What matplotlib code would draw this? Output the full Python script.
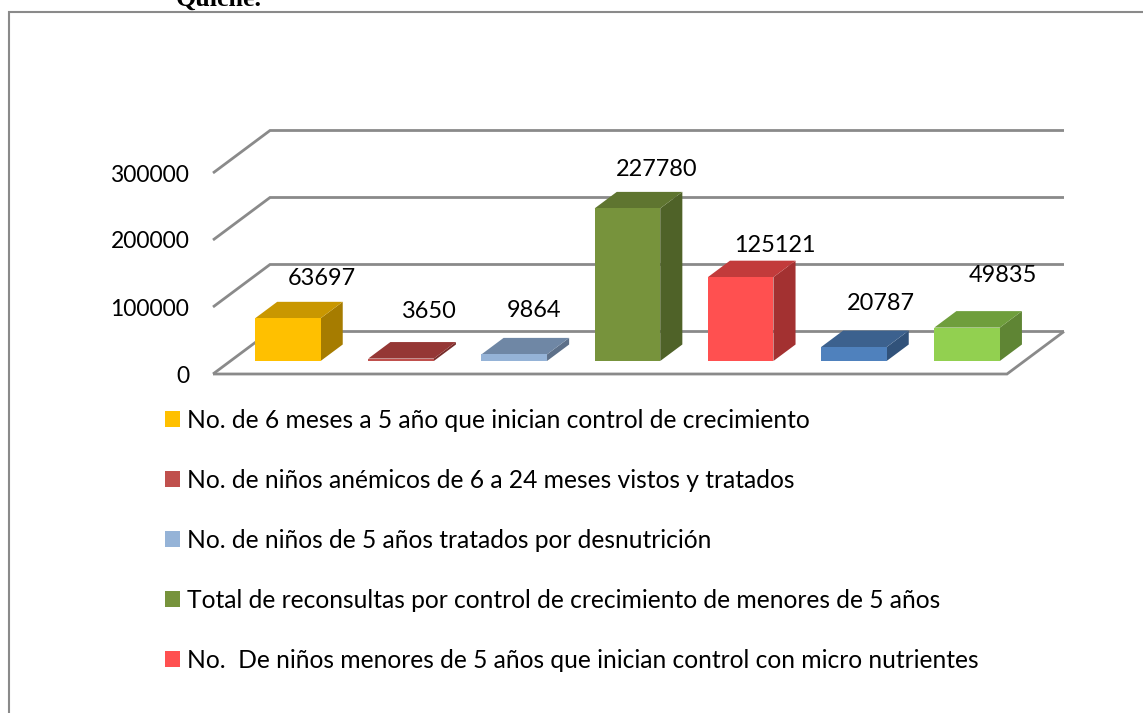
import matplotlib
matplotlib.use("Agg")
import matplotlib.pyplot as plt
from matplotlib.lines import Line2D
from matplotlib.patches import Patch

# Values
values = [63697, 3650, 9864, 227780, 125121, 20787, 49835]
y_ticks = [0, 100000, 200000, 300000]
legend_labels = [
    "No. de 6 meses a 5 año que inician control de crecimiento",
    "No. de niños anémicos de 6 a 24 meses vistos y tratados",
    "No. de niños de 5 años tratados por desnutrición",
    "Total de reconsultas por control de crecimiento de menores de 5 años",
    "No.  De niños menores de 5 años que inician control con micro nutrientes",
]
front_colors = ["#ffc000", "#c0504d", "#95b3d7", "#77933c", "#ff5050", "#4f81bd", "#92d050"]
top_colors = ["#c99700", "#953735", "#6f87a5", "#5f7530", "#c23b3b", "#3c618e", "#6f9e3c"]
side_colors = ["#a67c00", "#772c2a", "#5d7089", "#4f6228", "#a33131", "#31527a", "#5f8534"]

W, H = 1143, 713
GRID = "#8a8a8a"
FONT = "Lato"

# depth of the floor, in category units and in value units
FLOOR_DX = 57 / 113.43
FLOOR_DY = 42.5 / 67 * 100000
BAR_D0 = 0.306   # where a bar starts on the floor
BAR_D1 = 0.694   # where it ends
BAR_X0 = 0.217
BAR_W = 0.578
BAR_PITCH = 0.998

# label nudges in px, placed by hand in the original chart
label_dx = [-21, -27, -35, -26, -21, -28, -19]
label_dy = [23, 31, 27, 22, 15, 27, 36]


def proj(x, v, d):
    return x + d * FLOOR_DX, v + d * FLOOR_DY


fig = plt.figure(figsize=(W / 100, H / 100), dpi=100)
ax = fig.add_axes([213 / W, 1 - 374 / H, (1007 - 213) / W, (374 - 173) / H])
ax.set_xlim(0, 7)
ax.set_ylim(0, 300000)
for s in ax.spines.values():
    s.set_visible(False)
ax.set_xticks([])
ax.set_yticks(y_ticks)
ax.set_yticklabels([str(t) for t in y_ticks], fontsize=16.5, family=FONT)
ax.tick_params(axis="y", length=0, pad=17)
ax.patch.set_alpha(0)

# walls and floor
for t in y_ticks:
    xs, ys = zip(proj(0, t, 0), proj(0, t, 1), proj(7, t, 1))
    ax.plot(xs, ys, color=GRID, lw=2, clip_on=False, zorder=1,
            solid_joinstyle="miter", solid_capstyle="butt")
xs, ys = zip(proj(7, 0, 1), proj(7, 0, 0), proj(0, 0, 0))
ax.plot(xs, ys, color=GRID, lw=2, clip_on=False, zorder=1,
        solid_joinstyle="miter", solid_capstyle="butt")

# bars
for i, v in enumerate(values):
    x0 = i * BAR_PITCH + BAR_X0
    x1 = x0 + BAR_W
    top = [proj(x0, v, BAR_D0), proj(x1, v, BAR_D0), proj(x1, v, BAR_D1), proj(x0, v, BAR_D1)]
    side = [proj(x1, 0, BAR_D0), proj(x1, 0, BAR_D1), proj(x1, v, BAR_D1), proj(x1, v, BAR_D0)]
    front = [proj(x0, 0, BAR_D0), proj(x1, 0, BAR_D0), proj(x1, v, BAR_D0), proj(x0, v, BAR_D0)]
    for poly, col in zip([side, top, front], [side_colors[i], top_colors[i], front_colors[i]]):
        ax.fill(*zip(*poly), color=col, lw=0, clip_on=False, zorder=2)
    ax.annotate(str(v), xy=proj(x1, v, BAR_D1),
                xytext=(label_dx[i] * 0.72, label_dy[i] * 0.72), textcoords="offset points",
                ha="center", va="center", fontsize=16.9, family=FONT, color="black",
                annotation_clip=False, zorder=3)

# legend, only five entries fit in the frame
handles = [Patch(facecolor=c, edgecolor="none") for c in front_colors[:5]]
fig.legend(handles, legend_labels, loc="upper left", bbox_to_anchor=(165 / W, 1 - 408.5 / H),
           frameon=False, ncol=1, handlelength=0.61, handleheight=0.61, handletextpad=0.28,
           labelspacing=1.51, borderpad=0, borderaxespad=0, prop={"family": FONT, "size": 17.7})

# outer frame and the clipped heading above it
fig.add_artist(Line2D([8.5 / W, 8.5 / W, 1], [0, 1 - 12 / H, 1 - 12 / H], color=GRID, lw=1.5,
                      transform=fig.transFigure, solid_joinstyle="miter"))
fig.text(176 / W, 1 - 6 / H, "Quiché.", fontsize=18.7, fontweight="bold",
         family="Liberation Serif", ha="left", va="baseline")

fig.savefig("out.png", dpi=100)
